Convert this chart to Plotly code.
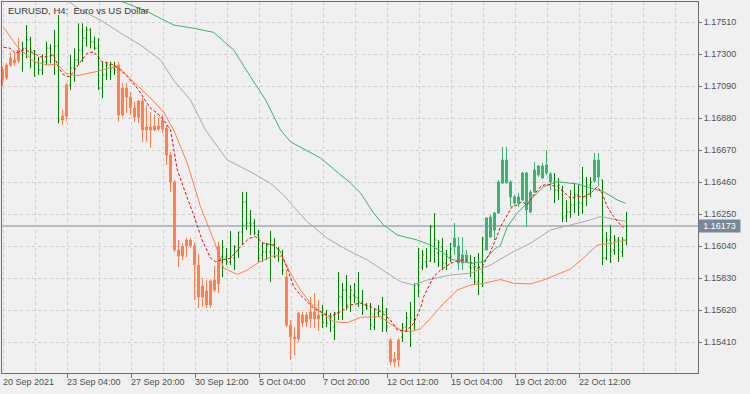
import plotly.graph_objects as go

# ---------------- data ----------------
# bar style per bar: S = coral candle, G = green OHLC bar, M = sea-green candle
bar_kind = ("SSSSS" + "GGGGGGGGGG" + "SS" + "GGGGGGGGGGGG" + "S" * 26 + "G" * 16 +
            "S" * 9 + "G" * 17 + "SSS" + "G" * 13 + "MMMM" + "GGGG" + "M" * 17 +
            "G" * 10 + "MM" + "G" * 7)

opens = [
    1.17197, 1.17230, 1.17276, 1.17263, 1.17328,
    1.17317, 1.17339, 1.17394, 1.17324, 1.17245,
    1.17197, 1.17250, 1.17341, 1.17295, 1.17354,
    1.16869, 1.16895, 1.17099, 1.17210, 1.17263,
    1.17328, 1.17407, 1.17460, 1.17381, 1.17341,
    1.17079, 1.17164, 1.17230, 1.17210, 1.17230,
    1.16902, 1.17079, 1.17020, 1.16948, 1.16889,
    1.16994, 1.16803, 1.16823, 1.16803, 1.16829,
    1.16810, 1.16816, 1.16639, 1.16462, 1.16016,
    1.15976, 1.16042, 1.16081, 1.16042, 1.15917,
    1.15707, 1.15747, 1.15655, 1.15753, 1.15793,
    1.15970, 1.15970, 1.15937, 1.15963, 1.16016,
    1.16134, 1.16331, 1.16193, 1.16193, 1.16114,
    1.15983, 1.16003, 1.16003, 1.16048, 1.15976,
    1.15983, 1.15838, 1.15524, 1.15445, 1.15432,
    1.15589, 1.15543, 1.15563, 1.15609, 1.15563,
    1.15589, 1.15589, 1.15556, 1.15510, 1.15602,
    1.15707, 1.15753, 1.15707, 1.15720, 1.15701,
    1.15675, 1.15655, 1.15576, 1.15510, 1.15602,
    1.15569, 1.15609, 1.15425, 1.15281, 1.15294,
    1.15445, 1.15510, 1.15504, 1.15556, 1.15786,
    1.15904, 1.15937, 1.15943, 1.16167, 1.15996,
    1.16035, 1.15930, 1.15963, 1.16035, 1.16042,
    1.15930, 1.15983, 1.15904, 1.15897, 1.15806,
    1.15871, 1.16016, 1.16101, 1.16147, 1.16258,
    1.16455, 1.16606, 1.16462, 1.16364, 1.16324,
    1.16344, 1.16521, 1.16265, 1.16396, 1.16508,
    1.16567, 1.16521, 1.16515, 1.16462, 1.16409,
    1.16409, 1.16239, 1.16265, 1.16311, 1.16377,
    1.16324, 1.16364, 1.16442, 1.16468, 1.16606,
    1.16475, 1.15963, 1.16081, 1.16016, 1.16081,
    1.16003, 1.16081]

highs = [
    1.17223, 1.17243, 1.17309, 1.17309, 1.17407,
    1.17383, 1.17492, 1.17416, 1.17328, 1.17284,
    1.17300, 1.17383, 1.17365, 1.17460, 1.17558,
    1.16935, 1.17112, 1.17295, 1.17339, 1.17503,
    1.17503, 1.17481, 1.17471, 1.17416, 1.17405,
    1.17251, 1.17251, 1.17251, 1.17251, 1.17251,
    1.17110, 1.17112, 1.17053, 1.16987, 1.17000,
    1.17013, 1.16967, 1.16921, 1.16902, 1.16882,
    1.16902, 1.16836, 1.16659, 1.16475, 1.16081,
    1.16062, 1.16094, 1.16094, 1.16062, 1.15989,
    1.15832, 1.15819, 1.15825, 1.15911, 1.16068,
    1.16081, 1.16029, 1.16140, 1.16048, 1.16134,
    1.16397, 1.16397, 1.16278, 1.16219, 1.16147,
    1.16068, 1.16062, 1.16140, 1.16094, 1.16035,
    1.16016, 1.15884, 1.15556, 1.15510, 1.15609,
    1.15609, 1.15609, 1.15707, 1.15734, 1.15688,
    1.15655, 1.15622, 1.15602, 1.15609, 1.15871,
    1.15799, 1.15851, 1.15786, 1.15799, 1.15871,
    1.15753, 1.15668, 1.15668, 1.15635, 1.15655,
    1.15707, 1.15635, 1.15438, 1.15346, 1.15438,
    1.15537, 1.15609, 1.15675, 1.15799, 1.16029,
    1.16016, 1.16029, 1.16180, 1.16258, 1.16081,
    1.16094, 1.16016, 1.16062, 1.16193, 1.16101,
    1.16101, 1.16016, 1.15983, 1.15970, 1.15996,
    1.16101, 1.16232, 1.16245, 1.16265, 1.16475,
    1.16692, 1.16692, 1.16475, 1.16377, 1.16390,
    1.16528, 1.16528, 1.16409, 1.16593, 1.16574,
    1.16587, 1.16672, 1.16528, 1.16521, 1.16488,
    1.16436, 1.16344, 1.16409, 1.16455, 1.16449,
    1.16560, 1.16495, 1.16495, 1.16652, 1.16652,
    1.16475, 1.16134, 1.16180, 1.16114, 1.16101,
    1.16101, 1.16265]

lows = [
    1.17092, 1.17131, 1.17217, 1.17223, 1.17243,
    1.17186, 1.17274, 1.17208, 1.17153, 1.17164,
    1.17164, 1.17230, 1.17241, 1.17164, 1.16847,
    1.16836, 1.16862, 1.17066, 1.17120, 1.17230,
    1.17251, 1.17350, 1.17339, 1.17328, 1.17066,
    1.17011, 1.17131, 1.17131, 1.17164, 1.16858,
    1.16891, 1.16915, 1.16902, 1.16856, 1.16849,
    1.16724, 1.16724, 1.16685, 1.16797, 1.16797,
    1.16784, 1.16574, 1.16396, 1.16003, 1.15904,
    1.15950, 1.15970, 1.16029, 1.15688, 1.15635,
    1.15642, 1.15635, 1.15635, 1.15740, 1.15734,
    1.15838, 1.15917, 1.15917, 1.15884, 1.15963,
    1.16048, 1.16147, 1.16114, 1.16114, 1.15937,
    1.15937, 1.15950, 1.15806, 1.15963, 1.15937,
    1.15851, 1.15510, 1.15294, 1.15327, 1.15412,
    1.15510, 1.15510, 1.15504, 1.15504, 1.15484,
    1.15504, 1.15510, 1.15477, 1.15425, 1.15556,
    1.15556, 1.15622, 1.15609, 1.15668, 1.15642,
    1.15589, 1.15622, 1.15491, 1.15491, 1.15576,
    1.15477, 1.15477, 1.15261, 1.15248, 1.15248,
    1.15412, 1.15477, 1.15379, 1.15491, 1.15707,
    1.15884, 1.15897, 1.15937, 1.15930, 1.15904,
    1.15884, 1.15884, 1.15937, 1.15983, 1.15884,
    1.15884, 1.15937, 1.15838, 1.15786, 1.15720,
    1.15773, 1.16016, 1.16094, 1.16081, 1.16252,
    1.16449, 1.16455, 1.16298, 1.16311, 1.16298,
    1.16337, 1.16167, 1.16258, 1.16390, 1.16495,
    1.16482, 1.16508, 1.16409, 1.16324, 1.16344,
    1.16199, 1.16199, 1.16226, 1.16258, 1.16239,
    1.16252, 1.16304, 1.16364, 1.16455, 1.16436,
    1.15917, 1.15950, 1.15930, 1.15983, 1.15937,
    1.15970, 1.16048]

closes = [
    1.17131, 1.17145, 1.17230, 1.17243, 1.17256,
    1.17339, 1.17394, 1.17328, 1.17245, 1.17197,
    1.17250, 1.17341, 1.17295, 1.17354, 1.16869,
    1.16895, 1.17099, 1.17210, 1.17263, 1.17328,
    1.17405, 1.17460, 1.17383, 1.17341, 1.17077,
    1.17164, 1.17230, 1.17210, 1.17197, 1.16902,
    1.17077, 1.17020, 1.16948, 1.16889, 1.16994,
    1.16803, 1.16823, 1.16803, 1.16829, 1.16810,
    1.16869, 1.16639, 1.16462, 1.16016, 1.15976,
    1.16042, 1.16081, 1.16042, 1.15917, 1.15707,
    1.15779, 1.15655, 1.15812, 1.15819, 1.16042,
    1.16035, 1.15937, 1.15970, 1.16035, 1.16134,
    1.16331, 1.16193, 1.16186, 1.16127, 1.15963,
    1.16003, 1.16048, 1.16048, 1.15970, 1.16016,
    1.15884, 1.15524, 1.15445, 1.15432, 1.15602,
    1.15537, 1.15589, 1.15609, 1.15563, 1.15589,
    1.15537, 1.15537, 1.15576, 1.15602, 1.15707,
    1.15753, 1.15655, 1.15753, 1.15707, 1.15675,
    1.15655, 1.15635, 1.15524, 1.15576, 1.15622,
    1.15609, 1.15517, 1.15281, 1.15300, 1.15425,
    1.15504, 1.15569, 1.15569, 1.15786, 1.15963,
    1.15983, 1.15911, 1.16167, 1.16081, 1.16062,
    1.15930, 1.15983, 1.15970, 1.16094, 1.15930,
    1.15983, 1.15950, 1.15897, 1.15806, 1.15904,
    1.16081, 1.16226, 1.16232, 1.16258, 1.16462,
    1.16606, 1.16455, 1.16364, 1.16324, 1.16364,
    1.16521, 1.16278, 1.16396, 1.16541, 1.16567,
    1.16488, 1.16574, 1.16462, 1.16409, 1.16442,
    1.16226, 1.16265, 1.16311, 1.16377, 1.16324,
    1.16364, 1.16442, 1.16462, 1.16606, 1.16495,
    1.15963, 1.16081, 1.16003, 1.16081, 1.16016,
    1.16081, 1.16173]

# moving averages (bar position, price)
ma_red_x = [0.3, 2, 3.25, 4.1, 5.3, 7, 7.8, 9.5, 11.2, 12.8, 14.1, 15.3, 16.6, 17.8, 19.5,
            21.2, 22.8, 24.1, 24.9, 26.2, 27.8, 29.1, 31.2, 33.7, 35.3, 37, 38.7, 40.3, 42,
            43.7, 46.2, 47.8, 49.9, 52, 53.25, 54.5, 57, 59.5, 61.6, 63.25, 65.3, 67.8, 69.5,
            71.2, 72.8, 74.5, 76.2, 77.8, 80.3, 82, 84.5, 87, 89.5, 92, 94.5, 97, 98.7, 100.75,
            102.8, 104.5, 105.3, 107.8, 109.5, 112, 114.5, 117, 118.7, 119.9, 121.6, 123.25,
            124.5, 126.2, 127.4, 128.7, 129.9, 131.2, 132.8, 134.5, 135.75, 137, 138.7, 140.3,
            142, 143.7, 145.3, 147, 148.7, 149.9, 151.2, 152.8, 154.5, 155.3]
ma_red_y = [1.17346, 1.17339, 1.17307, 1.17317, 1.17328, 1.17317, 1.17307, 1.17284, 1.17284,
            1.17295, 1.17208, 1.17164, 1.17153, 1.17186, 1.17251, 1.17307, 1.17317, 1.17274,
            1.17251, 1.17245, 1.17230, 1.17208, 1.17153, 1.17077, 1.17012, 1.16946, 1.16913,
            1.16869, 1.16803, 1.16541, 1.16357, 1.16245, 1.16081, 1.15963, 1.15939, 1.15950,
            1.15961, 1.16037, 1.16092, 1.16103, 1.16059, 1.16048, 1.16004, 1.15895, 1.15775,
            1.15720, 1.15676, 1.15633, 1.15600, 1.15578, 1.15611, 1.15655, 1.15666, 1.15644,
            1.15611, 1.15556, 1.15491, 1.15480, 1.15535, 1.15633, 1.15709, 1.15841, 1.15884,
            1.15928, 1.15950, 1.15939, 1.15895, 1.15906, 1.15983, 1.16081, 1.16168, 1.16245,
            1.16300, 1.16311, 1.16333, 1.16311, 1.16377, 1.16431, 1.16447, 1.16442, 1.16431,
            1.16398, 1.16355, 1.16366, 1.16366, 1.16388, 1.16431, 1.16388, 1.16300, 1.16234,
            1.16180, 1.16165]

ma_coral_x = [0.3, 3.7, 7.8, 11.2, 13.7, 15.75, 18.25, 21.2, 24.1, 27.8, 29.5, 32.8, 37, 40.3,
              42.8, 46.2, 49.5, 52.8, 54.5, 55.3, 58.7, 61.2, 63.7, 65.3, 68.25, 69.9, 72, 74.5,
              77, 79.5, 82.8, 86.2, 89.5, 94.5, 97, 99.5, 102, 104.5, 107, 110.3, 113.7, 117,
              120.3, 124.5, 127.8, 132, 135.3, 139.5, 142, 145.25, 148.7, 152, 155.75]
ma_coral_y = [1.17476, 1.17350, 1.17253, 1.17230, 1.17236, 1.17177, 1.17158, 1.17175, 1.17190,
              1.17219, 1.17204, 1.17118, 1.17013, 1.16921, 1.16803, 1.16585, 1.16300, 1.16081,
              1.15963, 1.15896, 1.15856, 1.15884, 1.15928, 1.15950, 1.15983, 1.15972, 1.15862,
              1.15753, 1.15666, 1.15611, 1.15545, 1.15539, 1.15574, 1.15578, 1.15530, 1.15491,
              1.15480, 1.15498, 1.15567, 1.15666, 1.15753, 1.15786, 1.15797, 1.15822, 1.15797,
              1.15793, 1.15819, 1.15863, 1.15891, 1.15963, 1.16048, 1.16059, 1.16081]

ma_gray_x = [16, 19.5, 24.5, 29.5, 34.5, 39.5, 42.75, 47, 50.75, 56.2, 59.5, 62, 67, 70.25,
             72.75, 76.2, 81.2, 86.2, 91.2, 97, 99.5, 102.75, 106.2, 112, 117, 122, 127, 132,
             137, 142, 147, 149.5, 152, 156]
ma_gray_y = [1.17656, 1.17591, 1.17525, 1.17440, 1.17361, 1.17263, 1.17131, 1.17000, 1.16803,
             1.16606, 1.16562, 1.16529, 1.16453, 1.16377, 1.16300, 1.16201, 1.16092, 1.16016,
             1.15950, 1.15852, 1.15808, 1.15786, 1.15819, 1.15852, 1.15863, 1.15917, 1.15994,
             1.16060, 1.16147, 1.16180, 1.16213, 1.16235, 1.16224, 1.16202]

ma_green_x = [29.5, 36.2, 42.8, 47.8, 52.8, 57.8, 62, 65.8, 69.5, 72, 79.5, 87, 89.5, 92.75,
              95.25, 98.7, 103.7, 107, 110.25, 112, 117, 120.25, 122.75, 124.5, 126.2, 128.7,
              132.75, 135.25, 138.7, 143.7, 147, 150.25, 153.7, 155.75]
ma_green_y = [1.17650, 1.17580, 1.17492, 1.17471, 1.17444, 1.17328, 1.17153, 1.17000, 1.16803,
              1.16726, 1.16619, 1.16455, 1.16390, 1.16259, 1.16180, 1.16114, 1.16081, 1.16048,
              1.15996, 1.15956, 1.15928, 1.15939, 1.16016, 1.16048, 1.16168, 1.16258, 1.16365,
              1.16431, 1.16464, 1.16449, 1.16423, 1.16398, 1.16344, 1.16322]

price_ticks = [1.15410, 1.15620, 1.15830, 1.16040, 1.16250, 1.16460,
               1.16670, 1.16880, 1.17090, 1.17300, 1.17510]
time_tick_pos = [16.17, 32.17, 48.17, 64.17, 80.17, 96.17, 112.17, 128.17, 144.17]
time_tick_text = ["23 Sep 04:00", "27 Sep 20:00", "30 Sep 12:00", "5 Oct 04:00",
                  "7 Oct 20:00", "12 Oct 12:00", "15 Oct 04:00", "19 Oct 20:00",
                  "22 Oct 12:00"]
first_label = "20 Sep 2021"
title_text = "EURUSD, H4:\u00a0 Euro vs US Dollar"
last_price = 1.16173

# ---------------- styles ----------------
BG = "#f0f0f0"
AXIS = "#6e6e6e"
GRID = "#cfcfcf"
CORAL = "#ff7f50"
GREEN = "#008000"
SEAGREEN = "#3cb371"
GRAYMA = "#a9a9a9"
TXT = "#505050"
FONT = "Liberation Sans"

def subset(kind):
    idx = [i for i, k in enumerate(bar_kind) if k == kind]
    return (idx, [opens[i] for i in idx], [highs[i] for i in idx],
            [lows[i] for i in idx], [closes[i] for i in idx])

fig = go.Figure()

for kind, col in (("S", CORAL), ("M", SEAGREEN)):
    x, o, h, l, c = subset(kind)
    fig.add_trace(go.Candlestick(
        x=x, open=o, high=h, low=l, close=c, whiskerwidth=0,
        increasing=dict(line=dict(color=col, width=1), fillcolor=col),
        decreasing=dict(line=dict(color=col, width=1), fillcolor=col),
        showlegend=False, hoverinfo="skip"))

x, o, h, l, c = subset("G")
fig.add_trace(go.Ohlc(
    x=x, open=o, high=h, low=l, close=c, tickwidth=0.3,
    increasing=dict(line=dict(color=GREEN, width=1)),
    decreasing=dict(line=dict(color=GREEN, width=1)),
    showlegend=False, hoverinfo="skip"))

fig.add_trace(go.Scatter(x=ma_green_x, y=ma_green_y, mode="lines",
                         line=dict(color=SEAGREEN, width=1), showlegend=False, hoverinfo="skip"))
fig.add_trace(go.Scatter(x=ma_gray_x, y=ma_gray_y, mode="lines",
                         line=dict(color=GRAYMA, width=1), showlegend=False, hoverinfo="skip"))
fig.add_trace(go.Scatter(x=ma_coral_x, y=ma_coral_y, mode="lines",
                         line=dict(color=CORAL, width=1), showlegend=False, hoverinfo="skip"))
fig.add_trace(go.Scatter(x=ma_red_x, y=ma_red_y, mode="lines",
                         line=dict(color="#ff0000", width=1, dash="3px,2px"),
                         showlegend=False, hoverinfo="skip"))

annotations = [
    dict(text=title_text, xref="paper", yref="paper", x=0, y=1, xanchor="left",
         yanchor="top", xshift=4, yshift=-1, showarrow=False,
         font=dict(family=FONT, size=9.5, color="#3a3a3a")),
    dict(text=first_label, xref="paper", yref="paper", x=0, y=0, xanchor="left",
         yanchor="top", xshift=-1, yshift=-2, showarrow=False,
         font=dict(family=FONT, size=9, color=TXT)),
    dict(text=f"{last_price:.5f}", xref="paper", yref="y", x=1, y=last_price,
         xanchor="left", yanchor="middle", showarrow=False, bgcolor="#778899",
         width=39, height=10, borderpad=1, align="center",
         font=dict(family=FONT, size=9, color="#ffffff")),
]
for pos, lab in zip(time_tick_pos, time_tick_text):
    annotations.append(dict(text=lab, xref="x", yref="paper", x=pos, y=0,
                            xanchor="left", yanchor="top", xshift=-2, yshift=-2,
                            showarrow=False, font=dict(family=FONT, size=9, color=TXT)))

fig.update_layout(
    width=750, height=394,
    margin=dict(l=2, r=52, t=2, b=21, pad=0),
    paper_bgcolor=BG, plot_bgcolor=BG,
    showlegend=False, hovermode=False,
    annotations=annotations,
    shapes=[dict(type="line", xref="paper", yref="y", x0=0, x1=1, y0=last_price,
                 y1=last_price, line=dict(color="#778899", width=1), layer="between")],
    xaxis=dict(
        range=[-0.125, 173.875], tickmode="array", tickvals=time_tick_pos,
        showticklabels=False, ticks="outside", ticklen=4, tickcolor=AXIS, tickwidth=1,
        showgrid=True, gridcolor=GRID, griddash="3px,3px", gridwidth=1,
        minor=dict(tick0=8.17, dtick=8, showgrid=True, gridcolor=GRID,
                   griddash="3px,3px", gridwidth=1, ticks=""),
        showline=True, mirror=True, linecolor=AXIS, linewidth=1,
        zeroline=False, rangeslider=dict(visible=False), fixedrange=True),
    yaxis=dict(
        range=[1.152084, 1.176433], side="right", tickmode="array",
        tickvals=price_ticks, ticktext=[f"{v:.5f}" for v in price_ticks],
        ticks="outside", ticklen=3, tickcolor=AXIS, tickwidth=1,
        tickfont=dict(family=FONT, size=9, color=TXT),
        showgrid=True, gridcolor=GRID, griddash="3px,3px", gridwidth=1,
        showline=True, mirror=True, linecolor=AXIS, linewidth=1,
        zeroline=False, fixedrange=True),
)

fig.write_html("out.html", config={"displayModeBar": False},
               post_script="document.body.style.margin='0';document.body.style.background='#f0f0f0';")
